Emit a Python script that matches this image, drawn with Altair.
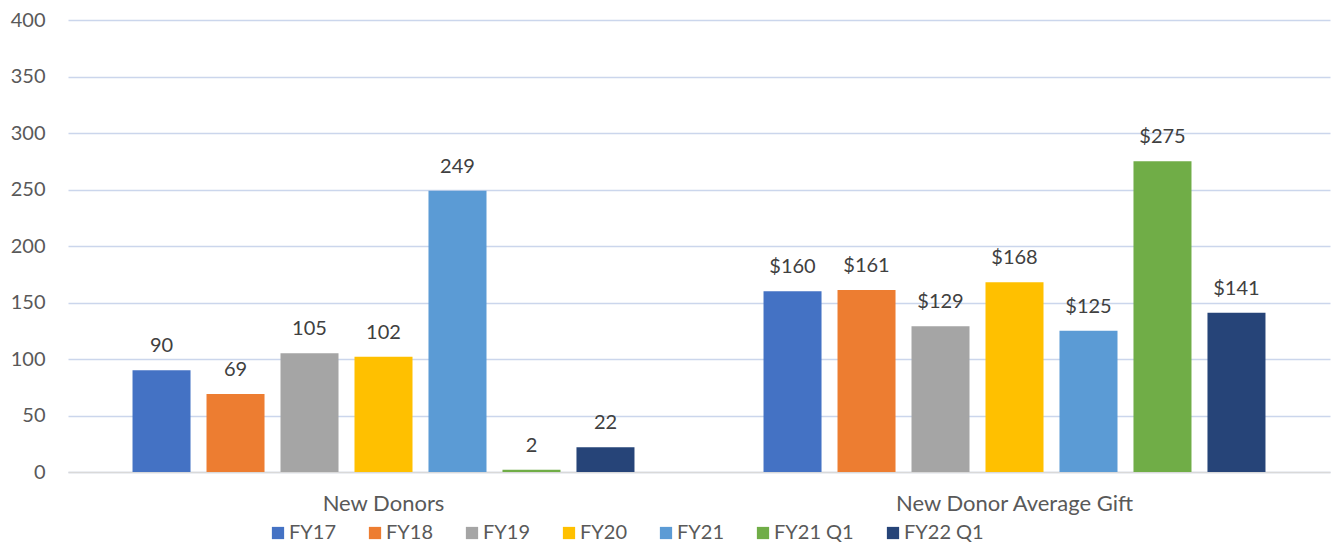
import altair as alt
import pandas as pd

categories = ["New Donors", "New Donor Average Gift"]
series = ["FY17", "FY18", "FY19", "FY20", "FY21", "FY21 Q1", "FY22 Q1"]
new_donors = [90, 69, 105, 102, 249, 2, 22]
avg_gift = [160, 161, 129, 168, 125, 275, 141]
colors = ["#4472C4", "#ED7D31", "#A5A5A5", "#FFC000", "#5B9BD5", "#70AD47", "#264478"]
y_ticks = [0, 50, 100, 150, 200, 250, 300, 350, 400]

rows = []
for s, v in zip(series, new_donors):
    rows.append({"category": categories[0], "series": s, "value": v, "label": f"{v}"})
for s, v in zip(series, avg_gift):
    rows.append({"category": categories[1], "series": s, "value": v, "label": f"${v}"})
df = pd.DataFrame(rows)

FONT = "Lato"

x = alt.X(
    "category:N",
    sort=categories,
    scale=alt.Scale(paddingInner=0, paddingOuter=0),
    axis=alt.Axis(
        title=None, labelAngle=0, ticks=False, domain=True, domainColor="#D9D9D9",
        domainWidth=1.5, labelPadding=21, labelFontSize=22, labelColor="#595959",
        labelFont=FONT, grid=False, labelLimit=0,
    ),
)
xo = alt.XOffset(
    "series:N", sort=series,
    scale=alt.Scale(paddingInner=0.216, paddingOuter=0.872),
)
y = alt.Y(
    "value:Q",
    scale=alt.Scale(domain=[0, 400], nice=False),
    axis=alt.Axis(
        title=None, values=y_ticks, ticks=False, domain=False, grid=True,
        gridColor="#CBD6EC", gridWidth=1.5, labelPadding=23, labelFontSize=20,
        labelColor="#595959", labelFont=FONT,
    ),
)

bars = alt.Chart(df).mark_bar().encode(
    x=x, xOffset=xo, y=y,
    color=alt.Color(
        "series:N", sort=series,
        scale=alt.Scale(domain=series, range=colors),
        legend=alt.Legend(
            title=None, orient="none", direction="horizontal",
            legendX=200, legendY=503, symbolType="square", symbolSize=150,
            symbolStrokeWidth=0, labelFontSize=20, labelFont=FONT,
            labelColor="#595959", columnPadding=29, labelOffset=1,
        ),
    ),
)

text = alt.Chart(df).mark_text(
    dy=-18, baseline="alphabetic", fontSize=20, font=FONT, color="#404040"
).encode(x=x, xOffset=xo, y=y, text="label:N")

chart = (bars + text).properties(
    width=1262, height=452,
    padding={"left": 60, "top": 12, "right": 3, "bottom": 74},
    autosize=alt.AutoSizeParams(type="none"),
).configure_view(stroke=None)

chart.save("out.html", embed_options={"renderer": "svg", "actions": False})
